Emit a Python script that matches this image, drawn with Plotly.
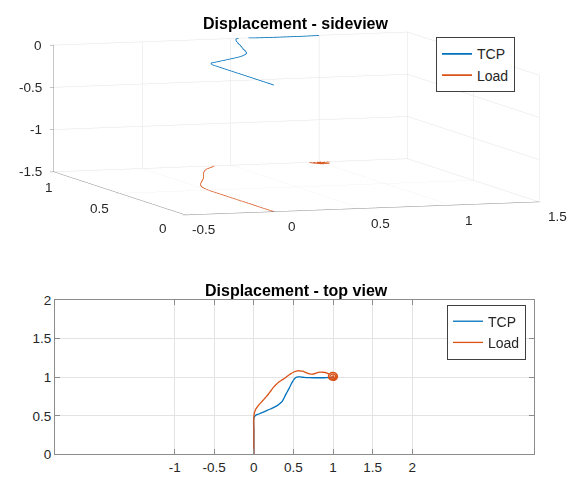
import plotly.graph_objects as go

# ---------------- data ----------------
TCP_x = [0.0, 0.0, 0.0, 0.0, 0.02, 0.063, 0.12, 0.169, 0.21, 0.253, 0.295, 0.329,
         0.36, 0.38, 0.40, 0.422, 0.445, 0.464, 0.485, 0.506, 0.53, 0.557, 0.60,
         0.633, 0.70, 0.759, 0.82, 0.886, 0.94, 0.992, 1.0]
TCP_y = [0.0, 0.15, 0.30, 0.47, 0.505, 0.523, 0.548, 0.570, 0.588, 0.608, 0.632, 0.658,
         0.69, 0.726, 0.77, 0.810, 0.855, 0.895, 0.935, 0.970, 0.995, 1.004, 1.0,
         0.996, 0.993, 0.992, 0.992, 0.992, 0.994, 0.996, 1.0]
TCP_z_level = 0.0

Load_x = [0.0, 0.0, 0.0, 0.0, 0.005, 0.021, 0.04, 0.063, 0.095, 0.127, 0.16, 0.190,
          0.22, 0.253, 0.285, 0.316, 0.35, 0.380, 0.42, 0.464, 0.505, 0.549, 0.58,
          0.612, 0.645, 0.675, 0.705, 0.738, 0.77, 0.802, 0.835, 0.865, 0.895, 0.920,
          0.949, 0.985, 1.04, 1.055, 1.03, 0.985, 0.945, 0.95, 0.995, 1.04, 1.045,
          1.01, 0.97, 0.965, 1.0, 1.03, 1.025, 0.995, 0.985, 1.005, 1.01, 1.0]
Load_y = [0.0, 0.15, 0.30, 0.481, 0.53, 0.578, 0.61, 0.641, 0.677, 0.713, 0.75, 0.789,
          0.83, 0.873, 0.908, 0.937, 0.96, 0.979, 1.01, 1.042, 1.066, 1.080, 1.082,
          1.076, 1.064, 1.051, 1.042, 1.038, 1.045, 1.059, 1.064, 1.063, 1.06, 1.055,
          1.042, 1.06, 1.045, 1.0, 0.965, 0.96, 0.99, 1.035, 1.06, 1.04, 0.995,
          0.97, 0.98, 1.02, 1.04, 1.02, 0.99, 0.985, 1.005, 1.015, 1.0, 1.0]
Load_z_level = -1.5

x3_ticks = [-0.5, 0, 0.5, 1, 1.5]
y3_ticks = [0, 0.5, 1]
z3_ticks = [-1.5, -1, -0.5, 0]
x2_ticks = [-1, -0.5, 0, 0.5, 1, 1.5, 2]
y2_ticks = [0, 0.5, 1, 1.5, 2]

series_names = ["TCP", "Load"]
# ----------------------------------------------------------------

C_TCP = "#0072BD"
C_LOAD = "#D95319"
FONT = "Liberation Sans, Arial, sans-serif"
TXT = "#262626"
GRID = "#e3e3e3"
AX = "#8c8c8c"
TICKFONT = dict(family=FONT, size=13.5, color=TXT)

# page body has an 8px margin: the figure is drawn at (8, 8) in the window
W, H = 571, 478
OFF = 8


def px(X):
    return (X - OFF) / W


def py(Y):
    return 1 - (Y - OFF) / H


def labels(vals):
    return [("%g" % v) for v in vals]


TCP_z = [TCP_z_level] * len(TCP_x)
Load_z = [Load_z_level] * len(Load_x)

fig = go.Figure()

fig.add_trace(go.Scatter3d(x=TCP_x, y=TCP_y, z=TCP_z, mode="lines",
                           line=dict(color=C_TCP, width=1.6), name=series_names[0],
                           legend="legend"))
fig.add_trace(go.Scatter3d(x=Load_x, y=Load_y, z=Load_z, mode="lines",
                           line=dict(color=C_LOAD, width=1.6), name=series_names[1],
                           legend="legend"))

fig.add_trace(go.Scatter(x=TCP_x, y=TCP_y, mode="lines", line=dict(color=C_TCP, width=1.3, shape="spline"),
                         name=series_names[0], legend="legend2", xaxis="x", yaxis="y"))
fig.add_trace(go.Scatter(x=Load_x, y=Load_y, mode="lines", line=dict(color=C_LOAD, width=1.3, shape="spline"),
                         name=series_names[1], legend="legend2", xaxis="x", yaxis="y"))

ax3 = dict(showbackground=False, gridcolor=GRID, gridwidth=1, zeroline=False,
           showline=True, linecolor=AX, linewidth=1, ticks="outside", ticklen=4,
           tickcolor=AX, showticklabels=False,
           title=dict(text=""), showspikes=False)

x0, x1 = -0.5, 1.5
y0, y1 = 0, 1
z0, z1 = -1.5, 0

# MATLAB-style upright tick labels of the 3D box, placed at the tick positions
scene_ann = []
for v, t in zip(x3_ticks, labels(x3_ticks)):
    scene_ann.append(dict(x=v, y=y0, z=z0, text=t, showarrow=False, xanchor="center",
                          yanchor="middle", xshift=18, yshift=-15, font=TICKFONT))
y_shift = {0: (-22, -14), 0.5: (-20, -15), 1: (-5, -16)}
for v, t in zip(y3_ticks, labels(y3_ticks)):
    sx, sy = y_shift[v]
    scene_ann.append(dict(x=x0, y=v, z=z0, text=t, showarrow=False, xanchor="center",
                          yanchor="middle", xshift=sx, yshift=sy, font=TICKFONT))
for v, t in zip(z3_ticks, labels(z3_ticks)):
    scene_ann.append(dict(x=x0, y=y1, z=v, text=t, showarrow=False, xanchor="right",
                          yanchor="middle", xshift=-10, yshift=0, font=TICKFONT))

S = 3.44   # overall 3D zoom (orthographic zoom is carried by the aspect ratio)
k = 10.0
cx, cy = px(296.5), py(120)
fig.update_layout(
    width=W, height=H,
    margin=dict(l=0, r=0, t=0, b=0),
    paper_bgcolor="white", plot_bgcolor="white",
    font=dict(family=FONT, color=TXT),
    scene=dict(
        domain=dict(x=[cx - (1 - cx), 1.0], y=[cy - (1 - cy), 1.0]),
        aspectmode="manual", aspectratio=dict(x=1 * S, y=1.109 * S, z=0.3415 * S),
        camera=dict(eye=dict(x=-0.316 * k, y=-0.942 * k, z=0.110 * k),
                    center=dict(x=0, y=0, z=0), up=dict(x=0, y=0, z=1),
                    projection=dict(type="orthographic")),
        xaxis=dict(ax3, range=[x0, x1], tickvals=x3_ticks),
        yaxis=dict(ax3, range=[y0, y1], tickvals=y3_ticks),
        zaxis=dict(ax3, range=[z0, z1], tickvals=z3_ticks),
        annotations=scene_ann,
    ),
    xaxis=dict(domain=[px(55), px(534.3)], range=[-2.51, 3.54], tickvals=x2_ticks,
               ticktext=labels(x2_ticks),
               showgrid=True, gridcolor=GRID, zeroline=False, showline=True, linecolor=AX,
               mirror="ticks", ticks="inside", ticklen=5, tickcolor=AX,
               tickfont=TICKFONT, anchor="y"),
    yaxis=dict(domain=[py(461.7), py(302)], range=[0, 2], tickvals=y2_ticks,
               ticktext=labels(y2_ticks),
               showgrid=True, gridcolor=GRID, zeroline=False, showline=True, linecolor=AX,
               mirror="ticks", ticks="inside", ticklen=5, tickcolor=AX,
               tickfont=TICKFONT, anchor="x"),
    legend=dict(x=px(515), y=py(31), xanchor="right", yanchor="top", bgcolor="white",
                bordercolor="#404040", borderwidth=1, font=dict(family=FONT, size=14, color=TXT),
                tracegroupgap=0, itemwidth=30),
    legend2=dict(x=px(526), y=py(307), xanchor="right", yanchor="top", bgcolor="white",
                 bordercolor="#404040", borderwidth=1, font=dict(family=FONT, size=14, color=TXT),
                 tracegroupgap=0, itemwidth=30),
    showlegend=True,
    annotations=[
        dict(text="<b>Displacement - sideview</b>", x=px(296), y=py(17), xref="paper", yref="paper",
             xanchor="center", yanchor="middle", showarrow=False, font=dict(family=FONT, size=16, color="black")),
        dict(text="<b>Displacement - top view</b>", x=px(296), y=py(292), xref="paper", yref="paper",
             xanchor="center", yanchor="middle", showarrow=False, font=dict(family=FONT, size=16, color="black")),
    ],
)

fig.write_html("out.html")
